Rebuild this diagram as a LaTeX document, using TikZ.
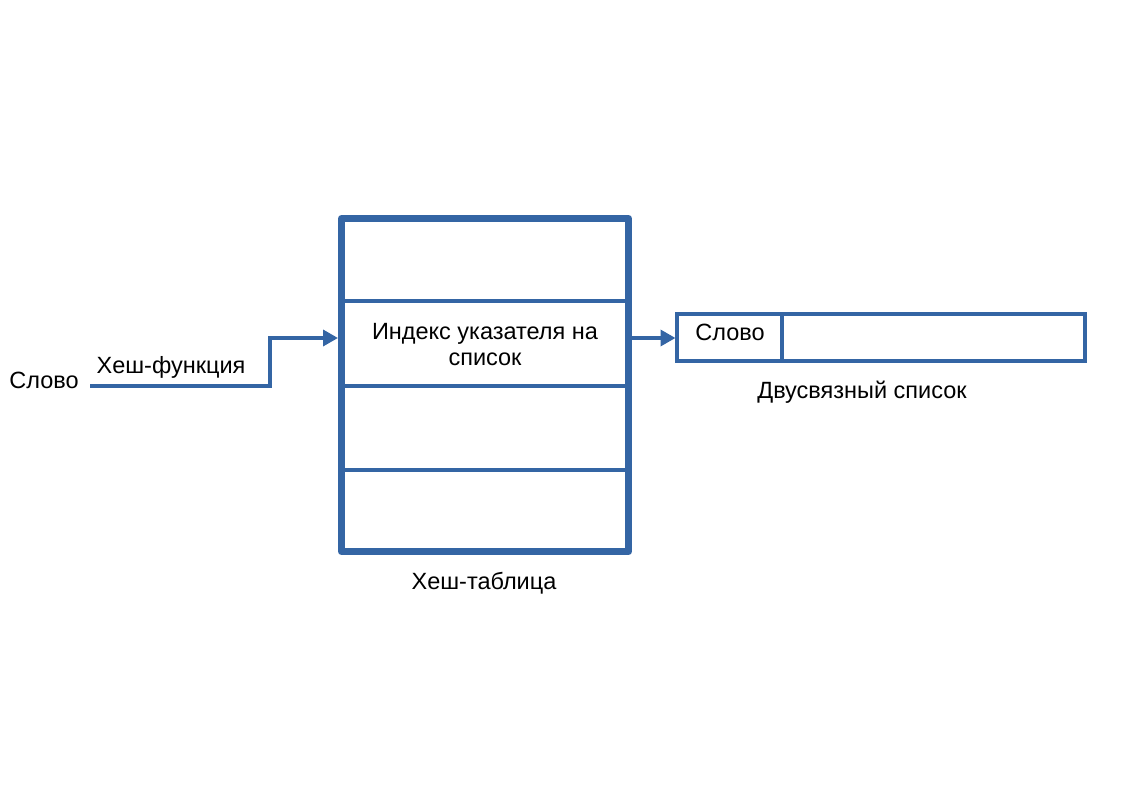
\documentclass[tikz,border=0pt]{standalone}
\usepackage{fontspec}
\setmainfont{Liberation Sans}
\usetikzlibrary{arrows.meta}
\definecolor{lblue}{HTML}{3465A4}
\begin{document}
\begin{tikzpicture}[x=1pt,y=-1pt,
  thickframe/.style={draw=lblue,line width=7pt,line join=round},
  thinline/.style={draw=lblue,line width=3.5pt},
  conn/.style={draw=lblue,line width=3.5pt,-{Triangle[length=15pt,width=16pt]}},
  lbl/.style={font=\fontsize{23.5}{26}\selectfont,inner sep=0pt,text=black}]
\useasboundingbox (0,0) rectangle (1123,794);
% hash table
\draw[thinline] (341.5,301) -- (628.5,301);
\draw[thinline] (341.5,386) -- (628.5,386);
\draw[thinline] (341.5,470) -- (628.5,470);
\draw[thickframe] (341.5,218.5) rectangle (628.5,551.5);
\coordinate (tin) at (338,338);
\coordinate (tout) at (628.5,338);
\node[lbl,align=center] (idx) at (485,345) {Индекс указателя на\\список};
\node[lbl] (ht) at (484,583) {Хеш-таблица};
% list
\draw[thinline] (677,314) rectangle (1085,361);
\draw[thinline] (782,314) -- (782,361);
\coordinate (lin) at (675.5,338);
\node[lbl] (lw) at (730,332) {Слово};
\node[lbl] (dl) at (862,392) {Двусвязный список};
% input
\node[lbl] (w) at (44,380) {Слово};
\node[lbl] (hf) at (171,367) {Хеш-функция};
\coordinate (s) at (90,386);
\draw[conn] (s) -- (270,386) -- (270,338) -- (tin);
\draw[conn] (tout) -- (lin);
\end{tikzpicture}
\end{document}
